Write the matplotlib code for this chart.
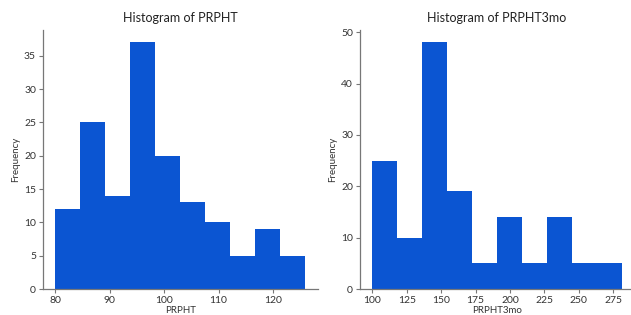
import matplotlib
matplotlib.use("Agg")
import matplotlib.pyplot as plt
import numpy as np

# bin edges and counts
prpht_edges = np.linspace(80, 126, 11)
prpht_counts = [12, 25, 14, 37, 20, 13, 10, 5, 9, 5]

prpht3_edges = np.linspace(100, 281, 11)
prpht3_counts = [25, 10, 48, 19, 5, 14, 5, 14, 5, 5]

plt.rcParams["font.family"] = ["Lato", "DejaVu Sans"]
bar_color = "#0b55d2"
spine_color = "#777777"

fig = plt.figure(figsize=(6.31, 3.15), dpi=100)
ax1 = fig.add_axes([0.0681, 0.0825, 0.4358, 0.822])
ax2 = fig.add_axes([0.5705, 0.0825, 0.4342, 0.822])

panels = [
    (ax1, prpht_edges, prpht_counts, "PRPHT", [0, 5, 10, 15, 20, 25, 30, 35]),
    (ax2, prpht3_edges, prpht3_counts, "PRPHT3mo", [0, 10, 20, 30, 40, 50]),
]
for ax, edges, counts, name, yt in panels:
    ax.hist(edges[:-1], bins=edges, weights=counts, color=bar_color)
    ax.set_title(f"Histogram of {name}", fontsize=9, color="#222222", pad=6)
    ax.set_xlabel(name, fontsize=7, color="#333333", labelpad=1)
    ax.set_ylabel("Frequency", fontsize=7, color="#333333", labelpad=3)
    ax.set_yticks(yt)
    for s in ("top", "right"):
        ax.spines[s].set_visible(False)
    for s in ("left", "bottom"):
        ax.spines[s].set_color(spine_color)
        ax.spines[s].set_linewidth(0.9)
    ax.tick_params(colors=spine_color, labelcolor="#333333", labelsize=7.5,
                   length=3, width=0.8, pad=2)

ax1.set_xticks([80, 90, 100, 110, 120])
ax2.set_xticks([100, 125, 150, 175, 200, 225, 250, 275])

fig.savefig("out.png", dpi=100)
